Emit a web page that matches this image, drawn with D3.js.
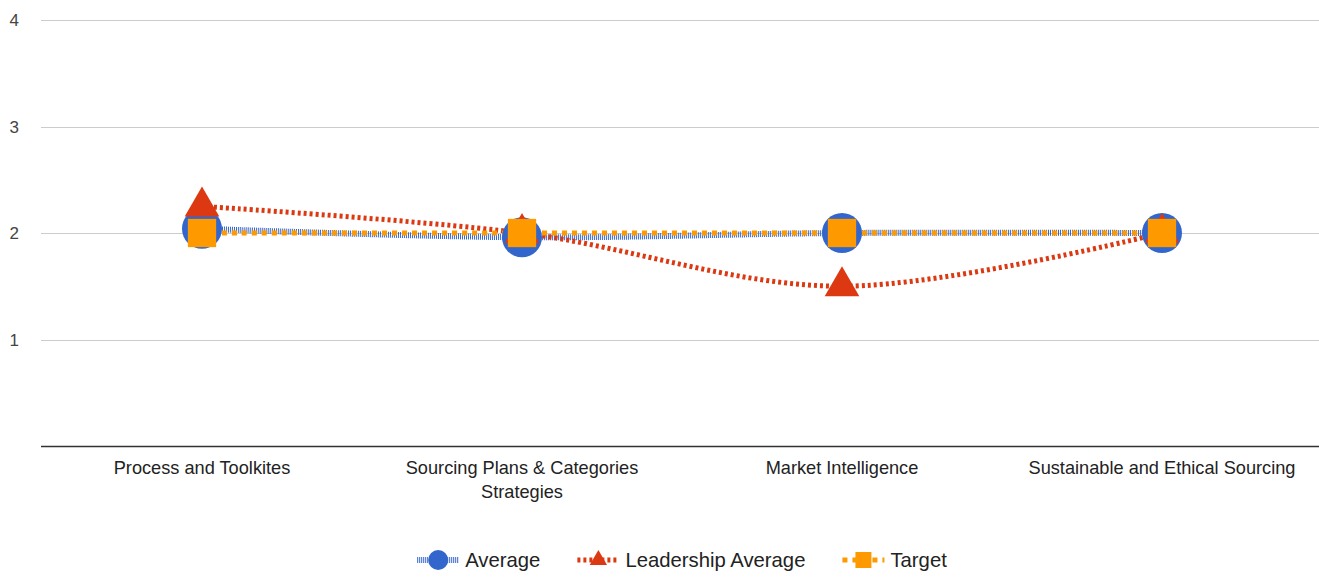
<!DOCTYPE html>
<html>
<head>
<meta charset="utf-8">
<script src="https://cdn.jsdelivr.net/npm/d3@7"></script>
<style>
  html, body { margin: 0; padding: 0; background: #fff; }
  svg { display: block; font-family: Arial, "Liberation Sans", sans-serif; }
</style>
</head>
<body>
<svg id="chart" width="1319" height="585"></svg>
<script>
const categories = ["Process and Toolkites", "Sourcing Plans & Categories Strategies", "Market Intelligence", "Sustainable and Ethical Sourcing"];
const seriesNames = ["Average", "Leadership Average", "Target"];
const averageValues = [2.04, 1.96, 2, 2];
const leadershipValues = [2.25, 2, 1.5, 2];
const targetValues = [2, 2, 2, 2];
const yTicks = [1, 2, 3, 4];
const yDomain = [0, 4];

const colors = ["#3366cc", "#dc3912", "#ff9900"];
const dashes = ["1,1", "3,3", "5,5"];
const widths = [6, 5, 5];
const shapes = [d3.symbolCircle, d3.symbolTriangle, d3.symbolSquare];
const bigSizes = [Math.PI * 400, 300 * Math.sqrt(3), 800];
const smallSizes = [Math.PI * 100, 75 * Math.sqrt(3), 256];

const seriesValues = [averageValues, leadershipValues, targetValues];

const svg = d3.select("#chart");
const W = 1319, H = 585;
const plotLeft = 42, plotRight = 1322, plotTop = 20, plotBottom = 446;

const x = d3.scaleBand().domain(categories).range([plotLeft, plotRight]);
const y = d3.scaleLinear().domain(yDomain).range([plotBottom, plotTop]);

// gridlines
const grid = svg.append("g");
grid.selectAll("line").data(yTicks).enter().append("line")
  .attr("x1", plotLeft - 1).attr("x2", W)
  .attr("y1", d => Math.round(y(d)) + 0.5).attr("y2", d => Math.round(y(d)) + 0.5)
  .attr("stroke", "#cccccc").attr("stroke-width", 1);

// y labels
svg.append("g").selectAll("text").data(yTicks).enter().append("text")
  .attr("x", 19).attr("y", d => y(d) + 6)
  .attr("text-anchor", "end")
  .attr("font-size", 17).attr("fill", "#444")
  .text(d => d);

// baseline
svg.append("line")
  .attr("x1", plotLeft - 1).attr("x2", W)
  .attr("y1", y(0) + 0.5).attr("y2", y(0) + 0.5)
  .attr("stroke", "#333").attr("stroke-width", 1.5);

// x labels with wrapping
const xl = svg.append("g");
categories.forEach(cat => {
  const cxp = x(cat) + x.bandwidth() / 2;
  const t = xl.append("text")
    .attr("x", cxp)
    .attr("y", 474)
    .attr("text-anchor", "middle")
    .attr("font-size", 18.2).attr("fill", "#222");
  const words = cat.split(" ");
  let line = [];
  let tspan = t.append("tspan").attr("x", cxp).attr("dy", 0);
  const maxW = x.bandwidth() - 30;
  words.forEach(w => {
    line.push(w);
    tspan.text(line.join(" "));
    if (tspan.node().getComputedTextLength() > maxW && line.length > 1) {
      line.pop();
      tspan.text(line.join(" "));
      line = [w];
      tspan = t.append("tspan").attr("x", cxp).attr("dy", 24).text(w);
    }
  });
});

// lines
const lineGen = d3.line()
  .x((d, i) => x(categories[i]) + x.bandwidth() / 2)
  .y(d => y(d))
  .curve(d3.curveCatmullRom.alpha(0.5));

const linesG = svg.append("g");
seriesValues.forEach((vals, s) => {
  linesG.append("path")
    .attr("d", lineGen(vals))
    .attr("fill", "none")
    .attr("stroke", colors[s])
    .attr("stroke-width", widths[s])
    .attr("stroke-dasharray", dashes[s]);
});

// points
const ptsG = svg.append("g");
seriesValues.forEach((vals, s) => {
  ptsG.append("g").selectAll("path").data(vals).enter().append("path")
    .attr("transform", (d, i) => `translate(${x(categories[i]) + x.bandwidth() / 2},${y(d)})`)
    .attr("d", d3.symbol().type(shapes[s]).size(bigSizes[s])())
    .attr("fill", colors[s]);
});

// legend
const legend = svg.append("g");
const items = [];
seriesNames.forEach((name, s) => {
  const g = legend.append("g");
  g.append("line").attr("x1", 0).attr("x2", 42).attr("y1", 0).attr("y2", 0)
    .attr("stroke", colors[s]).attr("stroke-width", widths[s]).attr("stroke-dasharray", dashes[s]);
  g.append("path").attr("transform", "translate(21,0)")
    .attr("d", d3.symbol().type(shapes[s]).size(smallSizes[s])())
    .attr("fill", colors[s]);
  const t = g.append("text").attr("x", 48).attr("y", 7)
    .attr("font-size", 20.3).attr("fill", "#222").text(name);
  items.push({ g, w: 48 + t.node().getComputedTextLength() });
});
const gap = 37;
const total = d3.sum(items, d => d.w) + gap * (items.length - 1);
let cx = (plotLeft + plotRight) / 2 - total / 2;
items.forEach(it => {
  it.g.attr("transform", `translate(${cx},560)`);
  cx += it.w + gap;
});
</script>
</body>
</html>
